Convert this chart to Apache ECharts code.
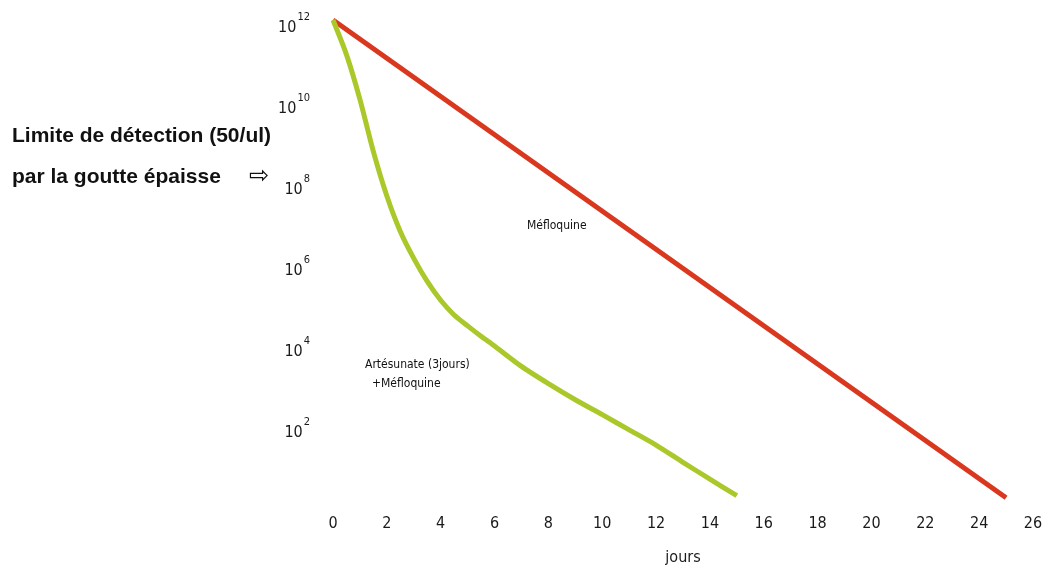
<!DOCTYPE html>
<html>
<head>
<meta charset="utf-8">
<script src="https://cdn.jsdelivr.net/npm/echarts@6/dist/echarts.min.js"></script>
<style>
html,body{margin:0;padding:0;background:#fff;}
#chart{width:1047px;height:571px;}
</style>
</head>
<body>
<div id="chart"></div>
<script>
// Days after start of treatment
const greenDays = [0, 0.5, 1, 1.5, 2, 2.5, 3, 3.5, 4, 4.5, 5, 5.5, 6, 7, 8, 9, 10, 11, 12, 13, 14, 15];
// Parasite load, Artésunate (3 jours) + Méfloquine
const greenLoad = [1e12, 1.4e11, 1.1e10, 5.6e8, 4.5e7, 6.0e6, 1.3e6, 3.5e5, 1.2e5, 5.2e4, 2.8e4, 1.55e4, 8.9e3, 2.8e3, 1.05e3, 4.2e2, 1.8e2, 76, 32, 12, 4.6, 1.8];
// Méfloquine alone
const redDays = [0, 25];
const redLoad = [1e12, 1.6];
// Axis ticks
const xTicks = [0, 2, 4, 6, 8, 10, 12, 14, 16, 18, 20, 22, 24, 26];
const yExponents = [0, 2, 4, 6, 8, 10, 12];

const narrow = "'Liberation Sans Narrow', 'Arial Narrow', 'DejaVu Sans Condensed', 'Liberation Sans', Arial, sans-serif";
const boldFont = "bold 21px 'Liberation Sans Narrow', 'Arial Narrow', 'Liberation Sans', Arial, sans-serif";

const toPts = (days, load) => days.map((d, i) => [d, Math.log10(load[i])]);

const chart = echarts.init(document.getElementById('chart'), null, {renderer: 'canvas'});
chart.setOption({
  animation: false,
  backgroundColor: '#ffffff',
  grid: {left: 333, right: 14, top: 20, bottom: 63, containLabel: false},
  xAxis: {
    type: 'value',
    min: xTicks[0], max: xTicks[xTicks.length - 1], interval: 2,
    axisLine: {show: false}, axisTick: {show: false}, splitLine: {show: false},
    axisLabel: {margin: 10, color: '#1a1a1a', fontFamily: narrow, fontSize: 16},
    name: 'jours', nameLocation: 'middle', nameGap: 44,
    nameTextStyle: {color: '#1a1a1a', fontFamily: narrow, fontSize: 16}
  },
  yAxis: {
    type: 'value',
    min: yExponents[0], max: yExponents[yExponents.length - 1], interval: 2,
    axisLine: {show: false}, axisTick: {show: false}, splitLine: {show: false},
    axisLabel: {
      margin: 23, color: '#1a1a1a', fontFamily: narrow,
      formatter: v => v === 0 ? '' : '{b|10}{s|' + v + '}',
      rich: {
        b: {fontSize: 16, fontFamily: narrow, color: '#1a1a1a', padding: [16, 0, 0, 0]},
        s: {fontSize: 11, fontFamily: narrow, color: '#1a1a1a', padding: [0, 0, 6, 1]}
      }
    }
  },
  graphic: [
    {type: 'text', left: 12, top: 126, style: {text: 'Limite de détection (50/ul)', font: boldFont, fill: '#111'}},
    {type: 'text', left: 12, top: 167, style: {text: 'par la goutte épaisse', font: boldFont, fill: '#111'}},
    {type: 'text', left: 249, top: 165, style: {text: '⇨', font: "24px 'DejaVu Sans', sans-serif", fill: '#111'}},
    {type: 'text', left: 527, top: 220, style: {text: 'Méfloquine', font: "12px " + narrow, fill: '#111'}},
    {type: 'text', left: 365, top: 359, style: {text: 'Artésunate (3jours)', font: "12px " + narrow, fill: '#111'}},
    {type: 'text', left: 372, top: 378, style: {text: '+Méfloquine', font: "12px " + narrow, fill: '#111'}}
  ],
  series: [
    {
      name: 'Méfloquine', type: 'line', data: toPts(redDays, redLoad),
      showSymbol: false, lineStyle: {color: '#d9381f', width: 5}, itemStyle: {color: '#d9381f'}
    },
    {
      name: 'Artésunate (3jours) +Méfloquine', type: 'line', data: toPts(greenDays, greenLoad),
      smooth: 0.25, showSymbol: false,
      lineStyle: {color: '#aac82a', width: 5}, itemStyle: {color: '#aac82a'}
    }
  ]
});
</script>
</body>
</html>
